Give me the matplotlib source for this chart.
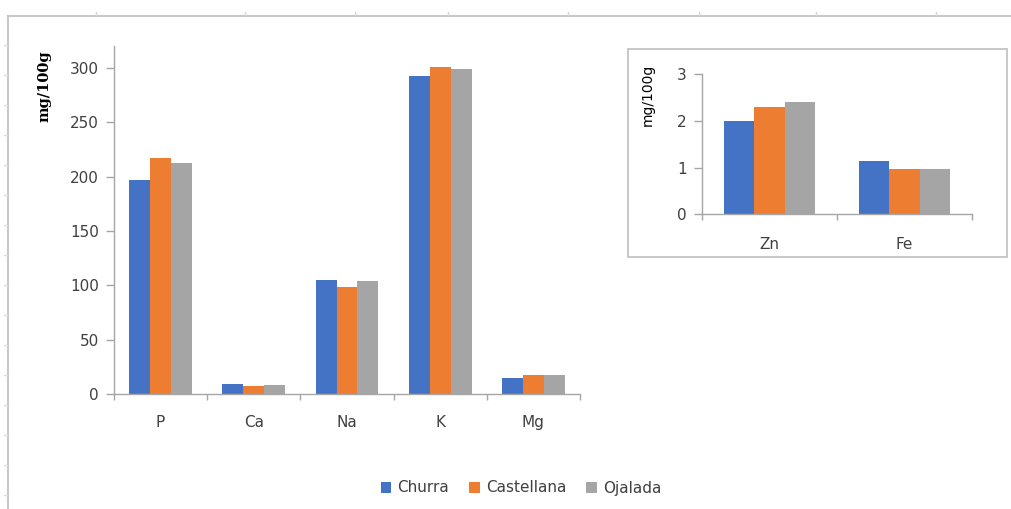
import matplotlib
matplotlib.use("Agg")
import matplotlib.pyplot as plt
from matplotlib.patches import Rectangle, Patch
from matplotlib.lines import Line2D
import numpy as np

# macro minerals (mg/100g)
macro = ["P", "Ca", "Na", "K", "Mg"]
churra_macro = [197, 9, 105, 293, 14.5]
castellana_macro = [217, 7, 98.5, 301, 17.5]
ojalada_macro = [212.5, 8.5, 104, 299, 17.5]

# trace minerals (mg/100g)
trace = ["Zn", "Fe"]
churra_trace = [2.01, 1.14]
castellana_trace = [2.31, 0.97]
ojalada_trace = [2.40, 0.97]

breeds = ["Churra", "Castellana", "Ojalada"]
colors = ["#4472C4", "#ED7D31", "#A5A5A5"]

W, H = 1012, 509
axis_col = "#A6A6A6"
text_col = "#404040"
plt.rcParams["font.family"] = ["DejaVu Sans"]

fig = plt.figure(figsize=(W / 100, H / 100), dpi=100)


def px_axes(x0, y0, x1, y1):
    # pixel box (top-left origin) -> figure fraction axes
    return fig.add_axes([x0 / W, 1 - y1 / H, (x1 - x0) / W, (y1 - y0) / H])


def grouped(ax, cats, series, bw, xpad):
    n = len(cats)
    x = np.arange(n)
    for i, vals in enumerate(series):
        ax.bar(x + (i - 1) * bw, vals, bw, color=colors[i], linewidth=0)
    ax.set_xlim(-0.5, n - 0.5)
    ax.set_xticks(np.arange(n + 1) - 0.5)
    ax.set_xticklabels([])
    ax.set_xticks(x, minor=True)
    ax.set_xticklabels(cats, minor=True)
    ax.tick_params(axis="x", which="major", length=4, color=axis_col, width=1)
    ax.tick_params(axis="x", which="minor", length=0, pad=xpad, labelsize=11,
                   labelcolor=text_col)
    ax.tick_params(axis="y", length=5.5, color=axis_col, width=1, pad=5.5,
                   labelsize=11, labelcolor=text_col)
    for s in ["top", "right"]:
        ax.spines[s].set_visible(False)
    for s in ["left", "bottom"]:
        ax.spines[s].set_color(axis_col)
        ax.spines[s].set_linewidth(1)


# main chart
ax = px_axes(114, 46.3, 580, 394)
grouped(ax, macro, [churra_macro, castellana_macro, ojalada_macro], 0.225, 15)
ax.set_ylim(0, 320)
ax.set_yticks(range(0, 301, 50))
fig.text(44 / W, 1 - 86 / H, "mg/100g", rotation=90, ha="center", va="center",
         fontsize=10.5, fontweight="bold", family="DejaVu Serif", color="black")

# inset box
fig.patches.append(Rectangle((628 / W, 1 - 257 / H), 379 / W, 208 / H,
                             transform=fig.transFigure, fill=False,
                             edgecolor="#BFBFBF", linewidth=1.2))

# inset chart
ax2 = px_axes(702, 74.3, 972, 214.3)
grouped(ax2, trace, [churra_trace, castellana_trace, ojalada_trace], 0.225, 16)
ax2.set_ylim(0, 3)
ax2.set_yticks([0, 1, 2, 3])
fig.text(648 / W, 1 - 95 / H, "mg/100g", rotation=90, ha="center", va="center",
         fontsize=10, color="black")

# legend
handles = [Patch(facecolor=c, edgecolor="none") for c in colors]
leg = fig.legend(handles, breeds, loc="center", bbox_to_anchor=(521 / W, 1 - 488 / H),
                 ncol=3, frameon=False, handlelength=0.7, handleheight=0.7,
                 handletextpad=0.4, columnspacing=1.3, fontsize=11)
for t in leg.get_texts():
    t.set_color(text_col)

# sheet frame around the chart
frame = "#C8C8C8"
fig.add_artist(Line2D([8 / W, 1], [1 - 16 / H, 1 - 16 / H], color=frame, lw=1.5))
fig.add_artist(Line2D([8 / W, 8 / W], [0, 1 - 16 / H], color=frame, lw=1.5))
for xp in [96, 245, 355, 448, 568, 699, 816, 936]:
    fig.add_artist(Line2D([xp / W, xp / W], [1 - 12 / H, 1 - 15 / H], color="#D8D8D8", lw=1))
for yp in range(45, 509, 30):
    fig.add_artist(Line2D([4 / W, 7 / W], [1 - yp / H, 1 - yp / H], color="#E0E0E0", lw=1))

fig.savefig("out.png", dpi=100)
